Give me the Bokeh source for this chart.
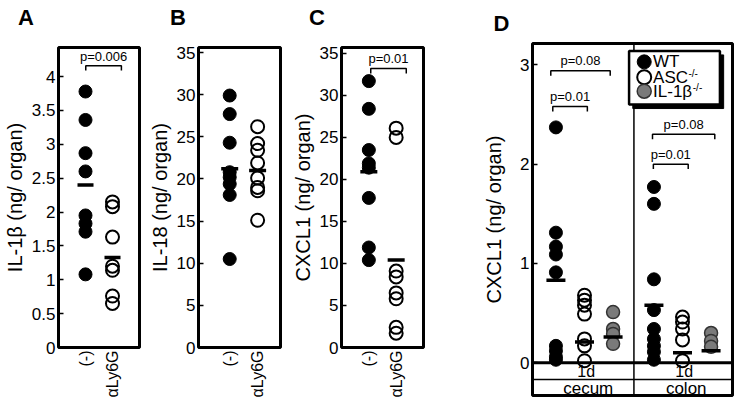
import math
from bokeh.plotting import figure
from bokeh.models import FixedTicker, CustomJSTickFormatter, Range1d, Div
from bokeh.layouts import row, column
from bokeh.embed import file_html
from bokeh.resources import INLINE
from bokeh.core.properties import value

FONT = "Liberation Sans"

# ---------------- data ----------------
groups = ["(-)", "αLy6G"]

A_ctrl = [3.78, 3.36, 2.87, 2.60, 1.95, 1.83, 1.71, 1.08]
A_ly6g = [2.15, 2.08, 1.63, 1.20, 1.14, 0.76, 0.65]
A_means = [2.40, 1.33]

B_ctrl = [29.9, 27.7, 24.3, 20.8, 20.2, 19.4, 18.1, 10.5]
B_ly6g = [26.2, 24.2, 23.4, 21.9, 20.1, 19.0, 18.6, 15.1]
B_means = [21.2, 21.0]

C_ctrl = [31.7, 28.4, 23.5, 21.9, 21.4, 17.8, 11.9, 10.4]
C_ly6g = [26.1, 25.0, 9.1, 8.4, 6.5, 5.8, 2.4, 1.7]
C_means = [20.9, 10.4]

tissues = ["cecum", "colon"]
timepoint = "1d"
genotypes = ["WT", "ASC", "IL-1β"]
D_cecum = {
    "WT": [2.37, 1.31, 1.17, 1.09, 0.91, 0.17, 0.12, 0.06, 0.03],
    "ASC": [0.68, 0.63, 0.58, 0.49, 0.24, 0.17, 0.02],
    "IL-1β": [0.51, 0.34, 0.29, 0.19],
}
D_colon = {
    "WT": [1.77, 1.60, 0.84, 0.53, 0.34, 0.24, 0.17, 0.11, 0.03],
    "ASC": [0.46, 0.41, 0.34, 0.23, 0.02],
    "IL-1β": [0.30, 0.22, 0.16],
}
D_cecum_means = [0.83, 0.21, 0.26]
D_colon_means = [0.58, 0.10, 0.12]

# p-value annotations: (label, x_start, x_end, y)
A_pvals = [("p=0.006", 1.01, 2.33, 4.16)]
C_pvals = [("p=0.01", 1.07, 2.37, 33.2)]
D_pvals = [("p=0.01", 0.71, 1.92, 2.58), ("p=0.08", 0.64, 2.72, 2.94),
           ("p=0.08", 4.20, 6.38, 2.30), ("p=0.01", 4.23, 5.45, 2.00)]

STYLE = {
    "WT": dict(fill_color="black", line_color="black", line_width=1),
    "ASC": dict(fill_color=None, line_color="black", line_width=2),
    "IL-1β": dict(fill_color="#7a7a7a", line_color="#333333", line_width=1.5),
}


def make_fig(w, h, xr, yr, bl, br, bt, bb, yticks, ylabel, xaxis=True):
    p = figure(width=w, height=h, x_range=Range1d(*xr), y_range=Range1d(*yr),
               output_backend="svg", toolbar_location=None, tools="",
               min_border_left=bl, min_border_right=br, min_border_top=bt,
               min_border_bottom=bb, x_axis_location="below" if xaxis else None)
    p.grid.visible = False
    p.outline_line_color = "black"
    p.outline_line_width = 3
    p.outline_line_alpha = 1
    ya = p.yaxis[0]
    ya.ticker = FixedTicker(ticks=yticks)
    ya.formatter = CustomJSTickFormatter(code="return tick.toString();")
    ya.major_tick_in = 5
    ya.major_tick_out = 0
    ya.major_tick_line_width = 1.5
    ya.major_tick_line_color = "black"
    ya.minor_tick_line_color = None
    ya.axis_line_color = None
    ya.major_label_text_font = FONT
    ya.major_label_text_font_size = "17px"
    ya.major_label_text_color = "black"
    ya.major_label_standoff = 3
    ya.axis_label = ylabel
    ya.axis_label_text_font = FONT
    ya.axis_label_text_font_style = "normal"
    ya.axis_label_text_font_size = "20px"
    ya.axis_label_text_color = "black"
    ya.axis_label_standoff = 3
    if xaxis:
        xa = p.xaxis[0]
        xa.ticker = FixedTicker(ticks=[1, 2])
        xa.formatter = CustomJSTickFormatter(args=dict(labels=groups),
                                             code="return labels[Math.round(tick) - 1];")
        xa.major_label_orientation = math.pi / 2
        xa.major_tick_in = 0
        xa.major_tick_out = 0
        xa.major_tick_line_color = None
        xa.minor_tick_line_color = None
        xa.axis_line_color = None
        xa.major_label_text_font = FONT
        xa.major_label_text_font_size = "16px"
        xa.major_label_text_color = "black"
        xa.major_label_standoff = 3
    return p


def letter_div(letter, w, pad_left):
    html = ('<div style="font-family: \'Liberation Sans\', Arial, sans-serif; '
            'font-size: 22px; font-weight: bold; line-height: 22px; color: black; '
            f'padding: 7px 0 0 {pad_left}px; margin: 0;">{letter}</div>')
    return Div(text=html, width=w, height=30, margin=0)


def bracket(p, label, x0, x1, y, drop, tgap):
    p.line([x0, x0, x1, x1], [y - drop, y, y, y - drop], line_color="black", line_width=1.5)
    p.text(x=[(x0 + x1) / 2], y=[y + tgap], text=[label], text_font=value(FONT),
           text_font_size="13px", text_align="center", text_baseline="bottom",
           text_color="black")


def two_group(p, ctrl, ly6g, means, bar_size):
    p.scatter([1] * len(ctrl), ctrl, size=13, **STYLE["WT"])
    p.scatter([2] * len(ly6g), ly6g, size=13, **STYLE["ASC"])
    p.scatter([1, 2], means, marker="dash", size=bar_size, line_width=3.5, line_color="black")


H = 402
HS = 372  # height of the A-C figures under their letter
# ---------------- A ----------------
pA = make_fig(145, HS, (0, 3), (0, 4.43), 53, 6, 17, 55,
              [0, 0.5, 1, 1.5, 2, 2.5, 3, 3.5, 4], "IL-1β (ng/ organ)")
two_group(pA, A_ctrl, A_ly6g, A_means, 16)
for lab, x0, x1, y in A_pvals:
    bracket(pA, lab, x0, x1, y, 0.07, 0.03)

# ---------------- B ----------------
pB = make_fig(143, HS, (-0.118, 2.82), (0, 35.6), 48, 8, 17, 55,
              [0, 5, 10, 15, 20, 25, 30, 35], "IL-18 (ng/ organ)")
two_group(pB, B_ctrl, B_ly6g, B_means, 17)

# ---------------- C ----------------
pC = make_fig(174, HS, (0, 3), (0, 35.7), 48, 39, 17, 55,
              [0, 5, 10, 15, 20, 25, 30, 35], "CXCL1 (ng/ organ)")
two_group(pC, C_ctrl, C_ly6g, C_means, 17)
for lab, x0, x1, y in C_pvals:
    bracket(pC, lab, x0, x1, y, 0.6, 0.3)

# ---------------- D ----------------
pD = make_fig(272, H, (0, 7), (-0.33, 3.215), 70, 2, 43, 7,
              [0, 1, 2, 3], "CXCL1 (ng/ organ)", xaxis=False)
pD.yaxis[0].axis_label_standoff = 12
pD.title.text = "D"
pD.title.text_font = FONT
pD.title.text_font_size = "22px"
pD.title.text_font_style = "bold"
pD.title.text_color = "black"
pD.title.align = "left"
pD.title.offset = -39
pD.title.standoff = 15

DIV = 3.55
pD.line([DIV, DIV], [-0.5, 3.5], line_color="black", line_width=1.5)
pD.line([-1, 8], [0, 0], line_color="black", line_width=3)
pD.line([-1, 8], [-0.17, -0.17], line_color="black", line_width=1.5)
group_base = [0.82, 4.25]
for gi, (data, means) in enumerate([(D_cecum, D_cecum_means), (D_colon, D_colon_means)]):
    for k, g in enumerate(genotypes):
        x = group_base[gi] + k
        pD.scatter([x] * len(data[g]), data[g], size=13, **STYLE[g])
    pD.scatter([group_base[gi] + k for k in range(3)], means, marker="dash", size=19,
               line_width=3.5, line_color="black")
    pD.text(x=[group_base[gi] + 1.06], y=[-0.085], text=[timepoint], text_font=value(FONT),
            text_font_size="16px", text_align="center", text_baseline="middle")
    pD.text(x=[group_base[gi] + 1.13], y=[-0.255], text=[tissues[gi]], text_font=value(FONT),
            text_font_size="17px", text_align="center", text_baseline="middle")
for lab, x0, x1, y in D_pvals:
    bracket(pD, lab, x0, x1, y, 0.05, 0.025)

# legend (drawn as glyphs so the superscripts can be reproduced)
L, R, T, B = 3.38, 6.56, 3.14, 2.60
pD.quad(left=[L + 0.13], right=[R + 0.13], top=[T - 0.04], bottom=[B - 0.04],
        fill_color="black", line_color="black")
pD.quad(left=[L], right=[R], top=[T], bottom=[B], fill_color="white",
        line_color="black", line_width=2.5)
rows = [3.03, 2.875, 2.735]
for g, yy in zip(genotypes, rows):
    pD.scatter([3.91], [yy], size=14, **STYLE[g])
pD.text(x=[4.22] * 3, y=rows, text=genotypes, text_font=value(FONT),
        text_font_size="17px", text_align="left", text_baseline="middle")
pD.text(x=[5.46, 5.61], y=[rows[1] + 0.04, rows[2] + 0.04], text=["-/-", "-/-"],
        text_font=value(FONT), text_font_size="10px", text_align="left",
        text_baseline="middle")

layout = row(column(letter_div("A", 145, 18), pA, spacing=0),
             column(letter_div("B", 143, 25), pB, spacing=0),
             column(letter_div("C", 174, 21), pC, spacing=0),
             column(pD), spacing=0)
open("out.html", "w").write(file_html(layout, INLINE))
